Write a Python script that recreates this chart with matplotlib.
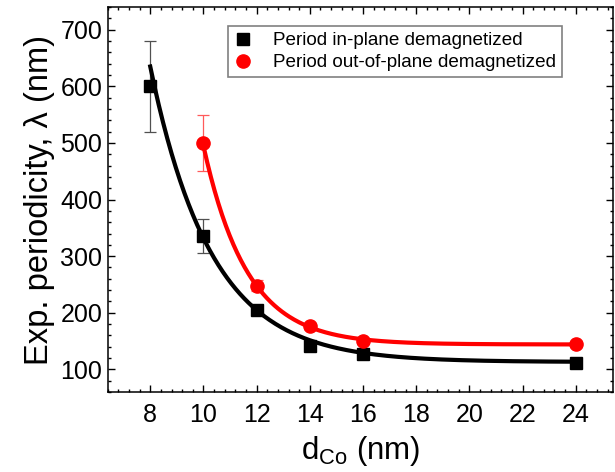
import matplotlib
matplotlib.use('Agg')
import numpy as np
import matplotlib.pyplot as plt
from matplotlib.ticker import MultipleLocator

plt.rcParams['font.family'] = ['Liberation Sans', 'DejaVu Sans']
plt.rcParams['mathtext.fontset'] = 'custom'
plt.rcParams['mathtext.rm'] = 'Liberation Sans'

# Data
d_inplane = [8, 10, 12, 14, 16, 24]
period_inplane = [600, 335, 205, 141, 128, 112]
err_inplane = [80, 30, 4, 3, 3, 3]

d_oop = [10, 12, 14, 16, 24]
period_oop = [500, 248, 176, 150, 145]
err_oop = [50, 10, 4, 3, 3]

# Exponential-decay fit parameters (y0, A, x0, t)
fit_inplane = (113, 522, 8, 2.3)
fit_oop = (144, 351, 10, 1.64)

xticks = [8, 10, 12, 14, 16, 18, 20, 22, 24]
yticks = [100, 200, 300, 400, 500, 600, 700]

def expdec(x, p):
    y0, A, x0, t = p
    return y0 + A * np.exp(-(x - x0) / t)

fig = plt.figure(figsize=(6.15, 4.72), dpi=100)
ax = fig.add_axes([0.1751, 0.1695, 0.8216, 0.8155])

xf1 = np.linspace(d_inplane[0], d_inplane[-1], 300)
xf2 = np.linspace(d_oop[0], d_oop[-1], 300)
ax.plot(xf1, expdec(xf1, fit_inplane), color='black', lw=3, zorder=2)
ax.plot(xf2, expdec(xf2, fit_oop), color='#ff0000', lw=3, zorder=2)

ax.errorbar(d_inplane, period_inplane, yerr=err_inplane, fmt='none',
            ecolor='#505050', elinewidth=0.9, capsize=4, capthick=0.9, zorder=1)
ax.errorbar(d_oop, period_oop, yerr=err_oop, fmt='none',
            ecolor='#ff5a5a', elinewidth=0.9, capsize=4, capthick=0.9, zorder=1)

ax.plot(d_inplane, period_inplane, 's', color='black', ms=9, zorder=3,
        label='Period in-plane demagnetized')
ax.plot(d_oop, period_oop, 'o', color='#ff0000', ms=9.5, zorder=3,
        label='Period out-of-plane demagnetized')

ax.set_xlim(6.4, 25.4)
ax.set_ylim(60, 740)
ax.set_xticks(xticks)
ax.set_yticks(yticks)
ax.xaxis.set_minor_locator(MultipleLocator(0.4))
ax.yaxis.set_minor_locator(MultipleLocator(20))
ax.tick_params(which='both', direction='in', top=True, right=True, width=1)
ax.tick_params(which='major', length=5, labelsize=18)
ax.tick_params(which='minor', length=2.5)
ax.tick_params(axis='x', which='major', pad=8)
ax.tick_params(axis='y', which='major', pad=4)
for s in ax.spines.values():
    s.set_linewidth(1.1)

ax.set_xlabel(r'd$_{\mathrm{Co}}$ (nm)', fontsize=22.5, labelpad=5)
ax.set_ylabel('Exp. periodicity, λ (nm)', fontsize=23.5, labelpad=4)

leg = ax.legend(loc='upper left', bbox_to_anchor=(0.238, 0.95), fontsize=13.6,
                frameon=True, fancybox=False, edgecolor='#808080', framealpha=1,
                handlelength=1.0, handletextpad=1.1, borderpad=0.3,
                labelspacing=0.25, borderaxespad=0)
leg.get_frame().set_linewidth(1.2)

fig.savefig('out.png', dpi=100)
